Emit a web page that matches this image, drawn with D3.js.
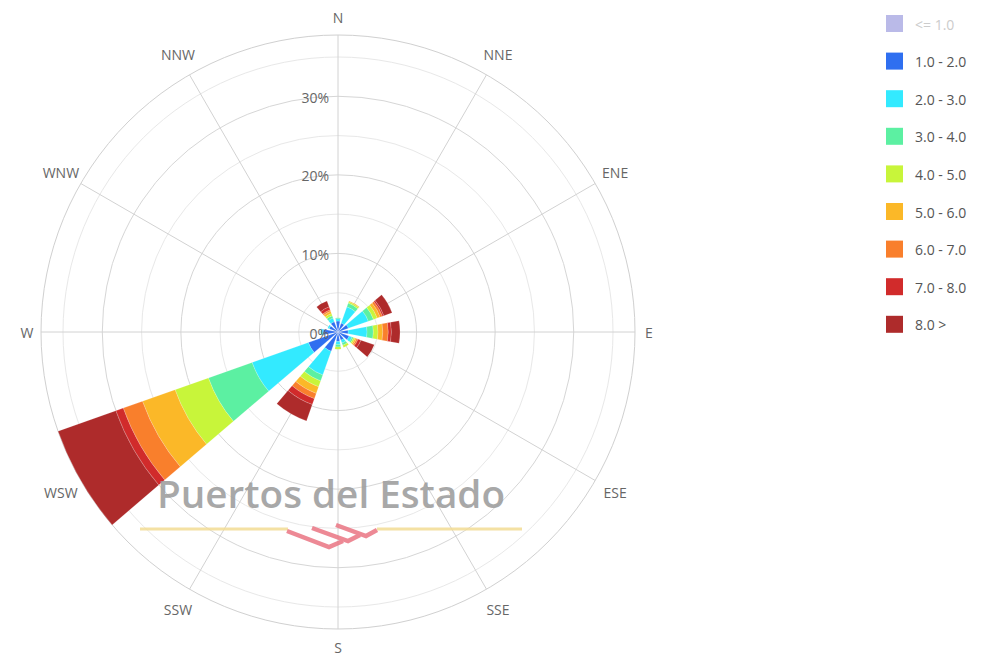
<!DOCTYPE html>
<html>
<head>
<meta charset="utf-8">
<script src="https://cdn.jsdelivr.net/npm/d3@7"></script>
<style>
  body { margin: 0; background: #fff; }
  svg { font-family: "Open Sans", sans-serif; }
</style>
</head>
<body>
<svg width="986" height="657"></svg>
<script>
// Direcciones (12 sectores) y clases de velocidad
const directions = ["N", "NNE", "ENE", "E", "ESE", "SSE", "S", "SSW", "WSW", "W", "WNW", "NNW"];
const speedBins = ["<= 1.0", "1.0 - 2.0", "2.0 - 3.0", "3.0 - 4.0", "4.0 - 5.0", "5.0 - 6.0", "6.0 - 7.0", "7.0 - 8.0", "8.0 >"];
const binColors = ["#b3b3e6", "#2f6ff0", "#33eaff", "#5cf0a2", "#c8f53a", "#fbb828", "#f97f2c", "#d12b2b", "#ae2b2b"];
// la primera clase está oculta en la leyenda (sin barras)
const hiddenBins = ["<= 1.0"];

// Frecuencias (%) por dirección, en el orden de directions
const v1to2 = [1.4, 1.2, 1.4, 1.3, 1.5, 1.1, 1.2, 2.6, 4.0, 1.9, 1.2, 1.4];
const v2to3 = [0.3, 2.2, 2.7, 2.4, 0.4, 0.4, 0.4, 3.2, 7.6, 0.3, 0.2, 0.5];
const v3to4 = [0.1, 0.5, 0.7, 0.8, 0.2, 0.3, 0.3, 0.8, 5.9, 0.0, 0.0, 0.3];
const v4to5 = [0.0, 0.2, 0.5, 0.6, 0.2, 0.3, 0.3, 0.8, 4.5, 0.0, 0.0, 0.3];
const v5to6 = [0.0, 0.1, 0.4, 0.6, 0.2, 0.0, 0.0, 0.9, 4.4, 0.0, 0.0, 0.3];
const v6to7 = [0.0, 0.0, 0.3, 0.7, 0.2, 0.0, 0.0, 0.7, 2.6, 0.0, 0.0, 0.2];
const v7to8 = [0.0, 0.0, 0.2, 0.4, 0.4, 0.0, 0.0, 0.8, 1.0, 0.0, 0.0, 0.4];
const v8up  = [0.0, 0.0, 1.1, 1.1, 1.8, 0.0, 0.0, 2.2, 7.8, 0.0, 0.0, 0.8];

const radialTicks = [0, 10, 20, 30];
const minorTicks = [5, 15, 25, 35];

const seriesValues = {
    "1.0 - 2.0": v1to2, "2.0 - 3.0": v2to3, "3.0 - 4.0": v3to4, "4.0 - 5.0": v4to5,
    "5.0 - 6.0": v5to6, "6.0 - 7.0": v6to7, "7.0 - 8.0": v7to8, "8.0 >": v8up
};
const visibleBins = speedBins.filter(b => !hiddenBins.includes(b));

// Tabla para d3.stack
const rows = directions.map((dir, i) => {
    const row = { dir: dir };
    visibleBins.forEach(b => row[b] = seriesValues[b][i]);
    return row;
});

const cx = 338, cy = 332, outerR = 297;
const svg = d3.select("svg");
const g = svg.append("g").attr("transform", "translate(" + cx + "," + cy + ")");

const stacked = d3.stack().keys(visibleBins)(rows);
const maxTotal = d3.max(rows, r => d3.sum(visibleBins, b => r[b]));

const r = d3.scaleLinear().domain([0, maxTotal]).range([0, outerR]);
const step = 2 * Math.PI / directions.length;
const angle = d3.scaleBand()
    .domain(directions)
    .range([-step / 2, 2 * Math.PI - step / 2])
    .paddingInner(0.3)
    .paddingOuter(0.15);
const color = d3.scaleOrdinal().domain(speedBins).range(binColors);
const mid = d => angle(d) + angle.bandwidth() / 2;

// Rejilla circular
g.selectAll(".minor")
    .data(minorTicks)
    .enter().append("circle")
    .attr("r", d => r(d))
    .attr("fill", "none")
    .attr("stroke", "#e8e8e8");

g.selectAll(".major")
    .data(radialTicks.filter(t => t > 0))
    .enter().append("circle")
    .attr("r", d => r(d))
    .attr("fill", "none")
    .attr("stroke", "#d6d6d6");

g.append("circle")
    .attr("r", outerR)
    .attr("fill", "none")
    .attr("stroke", "#d0d0d0");

// Radios
g.selectAll(".spoke")
    .data(directions)
    .enter().append("line")
    .attr("x1", 0).attr("y1", 0)
    .attr("x2", d => outerR * Math.sin(mid(d)))
    .attr("y2", d => -outerR * Math.cos(mid(d)))
    .attr("stroke", "#d2d2d2");

// Barras apiladas
const arc = d3.arc()
    .innerRadius(d => r(d[0]))
    .outerRadius(d => r(d[1]))
    .startAngle(d => angle(d.data.dir))
    .endAngle(d => angle(d.data.dir) + angle.bandwidth());

g.selectAll(".serie")
    .data(stacked)
    .enter().append("g")
    .attr("fill", d => color(d.key))
    .selectAll("path")
    .data(d => d.filter(p => p[1] > p[0]))
    .enter().append("path")
    .attr("d", arc)
    .attr("stroke", "#ffffff")
    .attr("stroke-opacity", 0.35)
    .attr("stroke-width", 0.5);

// Etiquetas de dirección
g.selectAll(".dirLabel")
    .data(directions)
    .enter().append("text")
    .attr("x", d => {
        const a = mid(d);
        const rr = Math.abs(Math.cos(a)) < 0.01 ? 311 : 320;
        return rr * Math.sin(a);
    })
    .attr("y", d => {
        const a = mid(d);
        const rr = Math.abs(Math.sin(a)) < 0.01 ? 315 : 320;
        return -rr * Math.cos(a);
    })
    .attr("text-anchor", "middle")
    .attr("dominant-baseline", "central")
    .attr("font-size", 14)
    .attr("fill", "#666")
    .text(d => d);

// Etiquetas del eje radial
g.selectAll(".yLabel")
    .data(radialTicks)
    .enter().append("text")
    .attr("x", -9)
    .attr("y", d => -r(d) + 1)
    .attr("text-anchor", "end")
    .attr("dominant-baseline", "central")
    .attr("font-size", 14)
    .attr("fill", "#666")
    .text(d => d + "%");

// Marca de agua
const wm = svg.append("g").attr("opacity", 0.85);
wm.append("text")
    .attr("x", 157)
    .attr("y", 508)
    .attr("font-size", 37)
    .attr("font-weight", 600)
    .attr("fill", "#9a9a9a")
    .attr("textLength", 348)
    .attr("lengthAdjust", "spacingAndGlyphs")
    .text("Puertos del Estado");
wm.append("line").attr("x1", 140).attr("x2", 288).attr("y1", 529).attr("y2", 529)
    .attr("stroke", "#f3dc94").attr("stroke-width", 3);
wm.append("line").attr("x1", 377).attr("x2", 522).attr("y1", 529).attr("y2", 529)
    .attr("stroke", "#f3dc94").attr("stroke-width", 3);
wm.selectAll(".logo")
    .data([[[287, 531], [329, 547], [343, 541]], [[312, 528], [348, 541], [360, 535]], [[336, 525], [366, 536], [377, 530]]])
    .enter().append("path")
    .attr("d", d3.line())
    .attr("fill", "none")
    .attr("stroke", "#ea7583")
    .attr("stroke-width", 4.5)
    .attr("stroke-linejoin", "miter");

// Leyenda
const legend = svg.append("g").attr("transform", "translate(886,15)");
const item = legend.selectAll(".item")
    .data(speedBins)
    .enter().append("g")
    .attr("transform", (d, i) => "translate(0," + (i * 37.6) + ")");
item.append("rect")
    .attr("width", 17)
    .attr("height", 17)
    .attr("fill", d => color(d))
    .attr("opacity", d => hiddenBins.includes(d) ? 0.9 : 1);
item.append("text")
    .attr("x", 29)
    .attr("y", 9)
    .attr("dominant-baseline", "central")
    .attr("font-size", 14)
    .attr("fill", d => hiddenBins.includes(d) ? "#cccccc" : "#555")
    .text(d => d);
</script>
</body>
</html>
